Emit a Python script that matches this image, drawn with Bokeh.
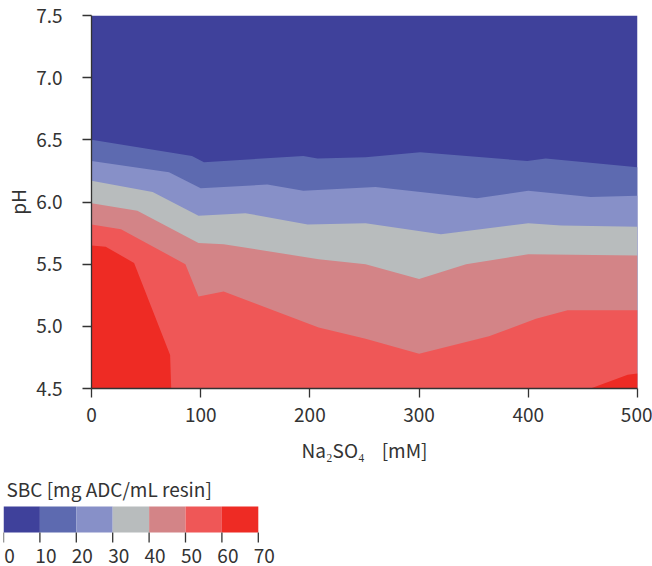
from bokeh.plotting import figure
from bokeh.layouts import column
from bokeh.models import FixedTicker, PrintfTickFormatter, Range1d
from bokeh.embed import file_html
from bokeh.resources import INLINE

# ---- data ----
x_lim = [0, 500]
y_lim = [4.5, 7.5]
x_ticks = [0, 100, 200, 300, 400, 500]
y_ticks = [4.5, 5.0, 5.5, 6.0, 6.5, 7.0, 7.5]

levels = [0, 10, 20, 30, 40, 50, 60, 70]
level_labels = ["0", "10", "20", "30", "40", "50", "60", "70"]
colors = ["#3f419b", "#5d6ab0", "#8790c8", "#b8bcbd", "#d38487", "#ef5757", "#ee2b24"]
cbar_title = "SBC [mg ADC/mL resin]"

# contour boundaries (pH where SBC crosses each level), vs Na2SO4 [mM]
b10_x = [0, 92, 103, 194, 207, 251, 301, 399, 416, 500]
b10_y = [6.50, 6.37, 6.32, 6.37, 6.35, 6.36, 6.40, 6.33, 6.35, 6.28]

b20_x = [0, 71, 100, 161, 194, 260, 353, 400, 457, 500]
b20_y = [6.33, 6.24, 6.11, 6.14, 6.09, 6.12, 6.03, 6.09, 6.04, 6.05]

b30_x = [0, 56, 98, 141, 198, 251, 320, 400, 430, 500]
b30_y = [6.17, 6.08, 5.89, 5.91, 5.82, 5.83, 5.74, 5.83, 5.81, 5.80]

b40_x = [0, 42, 98, 121, 208, 251, 300, 343, 400, 500]
b40_y = [5.99, 5.93, 5.67, 5.66, 5.54, 5.50, 5.38, 5.50, 5.58, 5.57]

b50_x = [0, 27, 86, 98, 121, 208, 251, 300, 364, 407, 436, 500]
b50_y = [5.82, 5.78, 5.50, 5.24, 5.28, 4.99, 4.90, 4.78, 4.92, 5.06, 5.13, 5.13]

b60_x = [0, 13, 39, 72, 73, 457, 491, 500]
b60_y = [5.65, 5.64, 5.51, 4.77, 4.50, 4.50, 4.61, 4.62]

boundaries = [(b10_x, b10_y), (b20_x, b20_y), (b30_x, b30_y),
              (b40_x, b40_y), (b50_x, b50_y), (b60_x, b60_y)]

FONT = "Noto Sans CJK JP"
TXT = "#333333"
FS = "19px"

p = figure(width=652, height=465,
           x_range=Range1d(*x_lim), y_range=Range1d(*y_lim),
           output_backend="svg", toolbar_location=None,
           min_border_left=91, min_border_right=15,
           min_border_top=15, min_border_bottom=77, frame_align=False)
p.xgrid.visible = False
p.ygrid.visible = False
p.outline_line_color = None

p.varea(x=x_lim, y1=y_lim[0], y2=y_lim[1], fill_color=colors[0])
for k, (bx, by) in enumerate(boundaries, start=1):
    p.varea(x=bx, y1=y_lim[0], y2=by, fill_color=colors[k])

p.xaxis.ticker = FixedTicker(ticks=x_ticks)
p.yaxis.ticker = FixedTicker(ticks=y_ticks)
p.yaxis.formatter = PrintfTickFormatter(format="%.1f")
p.xaxis.axis_label = "Na\u2082SO\u2084\u00a0\u00a0\u00a0\u00a0[mM]"
p.yaxis.axis_label = "pH"
for ax in (p.xaxis[0], p.yaxis[0]):
    ax.major_tick_in = 0
    ax.major_tick_out = 9
    ax.minor_tick_line_color = None
    ax.axis_line_color = TXT
    ax.major_tick_line_color = TXT
    ax.axis_line_width = 1.3
    ax.major_tick_line_width = 1.3
    ax.major_label_text_font = FONT
    ax.major_label_text_font_size = FS
    ax.major_label_text_color = TXT
    ax.axis_label_text_font = FONT
    ax.axis_label_text_font_size = FS
    ax.axis_label_text_font_style = "normal"
    ax.axis_label_text_color = TXT
p.yaxis.major_label_standoff = 20
p.yaxis.axis_label_standoff = 2
p.xaxis.major_label_standoff = 10
p.xaxis.axis_label_standoff = 11

# ---- colour bar (frame holds title, bar, ticks and tick labels; 1 y-unit = 1 px) ----
BAR_H = 26
TICK_L = 10
cb = figure(width=276, height=101,
            x_range=Range1d(levels[0], levels[-1] + 5), y_range=Range1d(-34, 67),
            output_backend="svg", toolbar_location=None,
            min_border_left=3, min_border_right=0,
            min_border_top=0, min_border_bottom=0, frame_align=False)
cb.xgrid.visible = False
cb.ygrid.visible = False
cb.outline_line_color = None
cb.background_fill_color = None
cb.border_fill_color = None
cb.xaxis.visible = False
cb.yaxis.visible = False
cb.quad(left=levels[:-1], right=levels[1:], bottom=0, top=BAR_H,
        fill_color=colors, line_color=None)
cb.segment(x0=levels, x1=levels, y0=0, y1=-TICK_L, line_color=TXT, line_width=1.3)
cb.text(x=levels, y=-TICK_L, text=level_labels, x_offset=6, y_offset=13,
        text_align="center", text_baseline="middle",
        text_font={"value": FONT}, text_font_size={"value": FS}, text_color=TXT)
cb.text(x=[levels[0]], y=[BAR_H], text=[cbar_title], x_offset=3, y_offset=-18,
        text_align="left", text_baseline="alphabetic",
        text_font={"value": FONT}, text_font_size={"value": FS}, text_color=TXT)

layout = column(p, cb, spacing=0)
open("out.html", "w").write(file_html(layout, INLINE))
